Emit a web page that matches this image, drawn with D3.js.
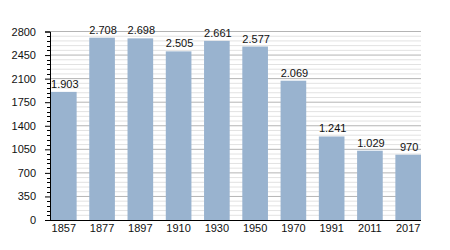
<!DOCTYPE html>
<html><head><meta charset="utf-8">
<script src="https://cdn.jsdelivr.net/npm/d3@7"></script>
<style>body{margin:0;background:#fff}svg{display:block}text{font-family:"Liberation Sans",Arial,sans-serif}</style>
</head><body>
<script>
const years = ["1857","1877","1897","1910","1930","1950","1970","1991","2011","2017"];
const population = [1903, 2708, 2698, 2505, 2661, 2577, 2069, 1241, 1029, 970];
const valueLabels = ["1.903","2.708","2.698","2.505","2.661","2.577","2.069","1.241","1.029","970"];
const yTicks = [0, 350, 700, 1050, 1400, 1750, 2100, 2450, 2800];

const W = 450, H = 250;
const svg = d3.select("body").append("svg").attr("width", W).attr("height", H);
const x = d3.scaleBand().domain(years).range([51, 421]).paddingInner(0.33).paddingOuter(0);
const y = d3.scaleLinear().domain([0, 2800]).range([220, 31.5]);

// minor grid
const minor = d3.range(0, 2801, 70).filter(v => v % 350 !== 0);
svg.append("g").selectAll("line").data(minor).join("line")
  .attr("x1", 50).attr("x2", 421).attr("y1", d => y(d)).attr("y2", d => y(d))
  .attr("stroke", "#e2e2e2").attr("stroke-width", 1);
svg.append("g").selectAll("line").data(yTicks.filter(v => v > 0)).join("line")
  .attr("x1", 50).attr("x2", 421).attr("y1", d => y(d)).attr("y2", d => y(d))
  .attr("stroke", "#b4b4b4").attr("stroke-width", 1);

// bars
svg.append("g").selectAll("rect").data(population).join("rect")
  .attr("x", (d, i) => x(years[i])).attr("width", x.bandwidth())
  .attr("y", d => y(d)).attr("height", d => y(0) - y(d))
  .attr("fill", "#99b3cf");

// value labels
svg.append("g").selectAll("text").data(population).join("text")
  .attr("x", (d, i) => x(years[i]) + x.bandwidth() / 2 + 1).attr("y", d => y(d) - 4)
  .attr("text-anchor", "middle").attr("font-size", 11).attr("fill", "#111")
  .text((d, i) => valueLabels[i]);

// y axis
const yAxis = d3.axisLeft(y).tickValues(yTicks).tickSize(5).tickPadding(9).tickFormat(d3.format("d"));
const ga = svg.append("g").attr("transform", "translate(50,0)").call(yAxis);
ga.select(".domain").attr("stroke", "#000");
ga.selectAll(".tick line").attr("stroke", "#000");
ga.selectAll("text").attr("font-size", 11).attr("fill", "#111").attr("font-family", "Liberation Sans, Arial, sans-serif");
svg.append("g").selectAll("line").data(minor).join("line")
  .attr("x1", 47).attr("x2", 50).attr("y1", d => Math.round(y(d)) + 0.5).attr("y2", d => Math.round(y(d)) + 0.5)
  .attr("stroke", "#000");

// x axis
svg.append("line").attr("x1", 50).attr("x2", 421).attr("y1", 220.5).attr("y2", 220.5).attr("stroke", "#000").attr("stroke-width", 1.2);
svg.append("g").selectAll("text").data(years).join("text")
  .attr("x", d => x(d) + x.bandwidth() / 2).attr("y", 232)
  .attr("text-anchor", "middle").attr("font-size", 11).attr("fill", "#111")
  .text(d => d);
</script>
</body></html>
